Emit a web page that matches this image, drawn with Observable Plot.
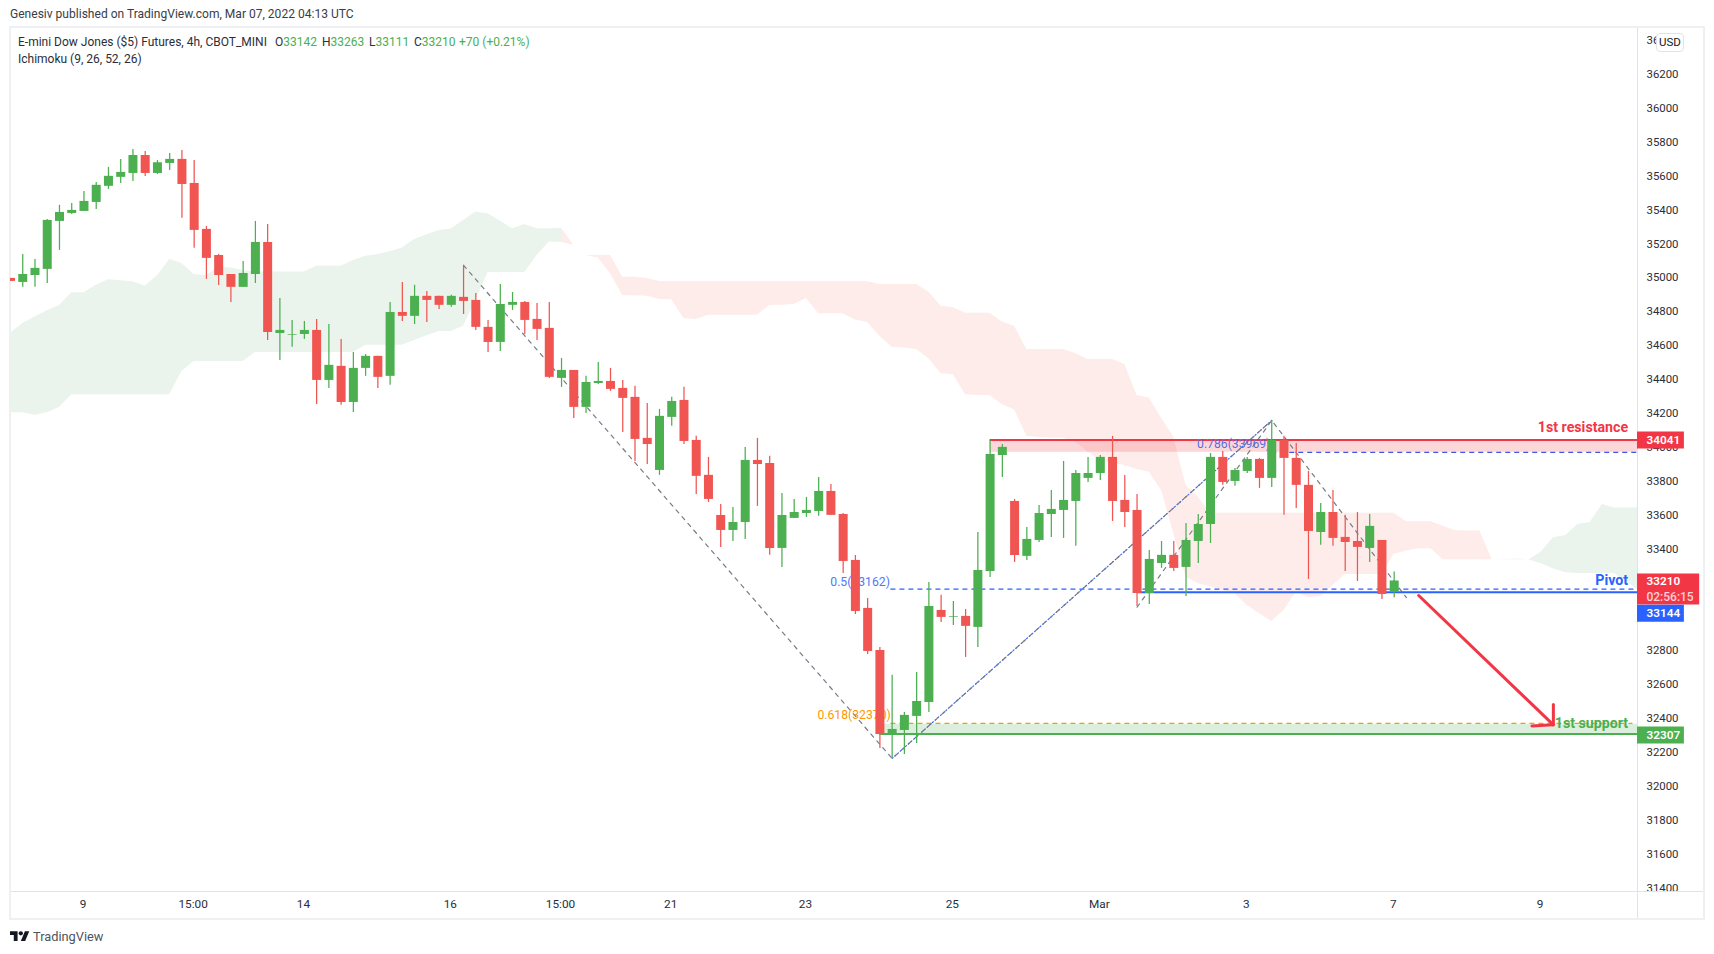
<!DOCTYPE html>
<html>
<head>
<meta charset="utf-8">
<script src="https://cdn.jsdelivr.net/npm/d3@7"></script>
<script src="https://cdn.jsdelivr.net/npm/@observablehq/plot@0.6"></script>
<style>
  html,body{margin:0;padding:0;background:#fff;width:1714px;height:954px;overflow:hidden;font-family:Roboto,sans-serif;color:#131722}
  #wrap{position:relative;width:1714px;height:954px}
  #pub{height:26px;line-height:29px;padding-left:10px;font-size:12.05px;color:#3a3d45;white-space:nowrap}
  #chart{height:894px}
  #chart svg{display:block}
  .leg{position:absolute;font-size:12px;white-space:nowrap;color:#2a2e39}
  .up{color:#4caf50}
  #usd{position:absolute;left:1656px;top:33px;width:26px;height:17px;line-height:17px;text-align:center;font-size:11.5px;background:#fff;border:1px solid #e0e3eb;border-radius:4px}
  #foot{position:absolute;left:33px;top:928px;font-size:12.8px;line-height:18px;color:#50535e}
  #logo{position:absolute;left:10px;top:928.5px;width:19.5px;height:15.2px}
</style>
</head>
<body>
<div id="wrap">
  <div id="pub">Genesiv published on TradingView.com, Mar 07, 2022 04:13 UTC</div>
  <div id="chart"></div>
  <span class="leg" style="left:18px;top:35px">E-mini Dow Jones ($5) Futures, 4h, CBOT_MINI</span>
  <span class="leg" style="left:275px;top:35px">O<span class="up">33142</span></span>
  <span class="leg" style="left:322px;top:35px">H<span class="up">33263</span></span>
  <span class="leg" style="left:369px;top:35px">L<span class="up">33111</span></span>
  <span class="leg" style="left:414px;top:35px">C<span class="up">33210</span></span>
  <span class="leg up" style="left:459px;top:35px">+70 (+0.21%)</span>
  <span class="leg" style="left:18px;top:52px">Ichimoku (9, 26, 52, 26)</span>
  <div id="usd">USD</div>
  <svg id="logo" viewBox="0 0 36 28"><path fill="#131722" d="M14 22H7V11H0V4h14v18zM28 22h-8l7.5-18h8L28 22z"/><circle fill="#131722" cx="20" cy="8" r="4"/></svg>
  <div id="foot">TradingView</div>
</div>
<script>
const opens = [34995,34971,35012,35048,35331,35378,35390,35443,35538,35591,35614,35720,35614,35673,35697,35555,35284,35130,35018,34942,35018,35207,34670,34660,34664,34688,34393,34476,34263,34464,34535,34417,34794,34771,34889,34889,34836,34883,34865,34706,34617,34836,34853,34753,34700,34405,34452,34234,34375,34387,34346,34293,34051,33862,34175,34275,34039,33833,33596,33508,33555,33921,33903,33402,33579,33608,33620,33738,33602,33331,33048,32800,32304,32328,32411,32493,33036,32995,33001,32936,33266,33950,33679,33355,33449,33602,33626,33679,33815,33844,33939,33685,33626,33136,33313,33361,33290,33443,33543,33939,33797,33856,33927,33815,34039,33933,33774,33496,33614,33467,33443,33402,33449,33142];
const highs = [34995,35136,35107,35343,35426,35437,35508,35561,35650,35697,35756,35744,35691,35732,35750,35691,35301,35136,35018,35095,35331,35313,34877,34747,34741,34753,34723,34635,34558,34546,34535,34853,34971,34954,34918,34889,34895,35072,34906,34747,34959,34912,34859,34847,34853,34523,34452,34417,34499,34464,34393,34358,34257,34222,34293,34352,34063,33939,33661,33644,33998,34051,33945,33726,33691,33703,33821,33779,33608,33360,33107,32818,32653,32434,32670,33201,33125,33089,33042,33496,34039,34015,33691,33526,33655,33744,33915,33862,33939,33950,34063,33832,33720,33390,33443,33443,33549,33602,33962,33974,33874,33939,33933,34157,34063,34021,33856,33667,33744,33597,33614,33602,33449,33263];
const lows = [34977,34942,34942,34965,35160,35372,35390,35402,35520,35555,35567,35596,35608,35632,35349,35172,34989,34953,34853,34942,34965,34629,34511,34588,34635,34251,34346,34246,34204,34417,34346,34364,34741,34723,34735,34812,34824,34782,34688,34558,34564,34806,34664,34629,34405,34352,34169,34198,34369,34328,34086,33915,33897,33833,34122,34015,33720,33673,33408,33443,33455,33650,33361,33290,33579,33585,33591,33597,33254,33012,32776,32222,32163,32186,32251,32434,32965,32947,32759,32818,33231,33821,33319,33331,33437,33467,33461,33414,33791,33803,33561,33526,33060,33071,33284,33266,33119,33313,33431,33774,33768,33844,33756,33762,33597,33638,33219,33420,33414,33266,33207,33319,33101,33111];
const closes = [34977,35018,35054,35337,35384,35396,35449,35544,35597,35620,35720,35614,35677,35697,35549,35278,35113,35012,34942,35024,35207,34676,34688,34664,34688,34393,34482,34263,34464,34535,34411,34794,34771,34889,34865,34836,34889,34859,34706,34617,34841,34853,34747,34694,34411,34452,34234,34381,34387,34340,34287,34045,34015,34181,34269,34033,33827,33691,33508,33555,33921,33897,33402,33596,33614,33626,33738,33597,33325,33030,32794,32304,32334,32417,32499,33060,32995,32999,32942,33272,33956,33998,33360,33455,33608,33632,33685,33844,33844,33939,33679,33614,33136,33337,33361,33284,33449,33543,33939,33791,33862,33927,33815,34039,33933,33774,33502,33614,33461,33437,33408,33532,33130,33210];

// Ichimoku cloud, first green stretch: bars 0..45
const greenATop = [34672,34729,34767,34804,34835,34910,34910,34954,34987,34981,34975,34948,35011,35107,35083,35018,35012,35060,35056,35042,35032,35032,35032,35032,35032,35066,35066,35066,35101,35126,35136,35152,35174,35225,35252,35278,35286,35337,35386,35376,35333,35288,35313,35288,35288,35290];
const greenABottom = [34202,34202,34187,34202,34234,34309,34309,34309,34309,34309,34309,34309,34309,34309,34446,34505,34505,34505,34505,34505,34558,34558,34558,34558,34558,34558,34558,34558,34558,34600,34600,34600,34600,34629,34657,34682,34682,34712,34865,35030,35030,35030,35030,35130,35209,35207];
// red stretch: bars 45..121
const redTop = [35290,35190,35130,35130,35130,
  35001,35001,34995,
  34977,34977,34977,34977,34977, 34977,34977,34977,34977,34977, 34977,34977,34977,34977,34977, 34977,34977,
  34975,34959,34959,34959,34959,34914,34831,34821,34790,34790,34790,34737,34711,34576,34576,34576,34576,34550,34517,34517,34517,34487,34304,34290,34170,34059,33773,33705,
  33610,33610,33610,33610, 33610,33610,33610,33610, 33610,33610,33610,33610, 33610,33610,33610,33610,
  33559,33559,33559,33533,33508,33504,33504,33335];
const redBottom = [35207,35190,35130,35115,35022,34894,34893,34889,34871,34869,34759,34753,34778,34778,34778,34778,34778,34835,34837,34841,34877,34786,34786,34786,34750,34735,34654,34589,34585,34576,34521,34432,34426,34308,34304,34304,34249,34220,34064,34056,34054,34052,34029,33970,33921,33905,33891,33868,33852,33744,33488,33233,33193,33174,33154,33134,33065,33016,32971,33036,33144,33111,33119,33183,33248,33248,33248,33248,33368,33386,33400,33400,33335,33335,33335,33335,33335];
// last green stretch: bars 121..133
const greenBTop = [33335,33337,33340,33335,33380,33465,33478,33543,33555,33661,33640,33640,33640];
const greenBBottom = [33335,33335,33335,33335,33311,33282,33258,33254,33254,33254,33254,33203,33154];

const yTicks = [31400,31600,31800,32000,32200,32400,32600,32800,33000,33200,33400,33600,33800,34000,34200,34400,34600,34800,35000,35200,35400,35600,35800,36000,36200,36400];
const xTickBars = [6,15,24,36,45,54,65,77,89,101,113,125];
const xTickLabels = ["9","15:00","14","16","15:00","21","23","25","Mar","3","7","9"];

const resistance = 34041, fib786 = 33969, pivot = 33144, fib05 = 33162, fib618 = 32370, support = 32307;
const lastBar = 132.87, tagEnd = 136.7, tagEndWide = 137.95, tagTextBar = 133.6, labelBar = 132.1;

const swingBars = [37,72,103];
const swingPrices = [35072,32163,34157];
const swing2Bars = [92,103,114];
const swing2Prices = [33055,34157,33112];
const fibBaseBars = [72,103];
const fibBasePrices = [32163,34157];

const arrowBars = [115,126,126,124.25];
const arrowPrices = [33124,32361,32481,32355];

const RED="#f05552", GREEN="#4caf50", TRED="#f23645", TBLUE="#2962ff", TGREEN="#4caf50", ORANGE="#ff9800", GREY="#787b86";
const FONT = "Roboto, sans-serif";

const candles = opens.map((o,i)=>({i,o,h:highs[i],l:lows[i],c:closes[i],col:closes[i]>=o?GREEN:RED}));
const cloudA = greenATop.map((t,k)=>({i:k,t,b:greenABottom[k]}));
const cloudR = redTop.map((t,k)=>({i:45+k,t,b:redBottom[k]}));
const cloudB = greenBTop.map((t,k)=>({i:121+k,t,b:greenBBottom[k]}));
const toPts = (xs,ys)=>xs.map((x,k)=>({x,y:ys[k]}));

function chrome(index, scales, values, dims){
  const {width,height,marginTop,marginRight,marginBottom,marginLeft}=dims;
  const g=d3.create("svg:g");
  const r=(x,y,w,h,f)=>g.append("rect").attr("x",x).attr("y",y).attr("width",w).attr("height",h).attr("fill",f);
  const right=width-marginRight, bottom=height-marginBottom;
  r(marginLeft-1,bottom,width-marginLeft,marginBottom,"#fff");
  r(right,marginTop,1,height-marginTop-1,"#e0e3eb");
  r(marginLeft,bottom,1704-marginLeft,1,"#e0e3eb");
  r(marginLeft-1,0,2,height,"#eff0f4");
  r(marginLeft-1,0,1696,2,"#eff0f4");
  r(1703,0,2,height,"#eff0f4");
  r(marginLeft-1,height-2,1696,2,"#eff0f4");
  return g.node();
}

const dash = {strokeWidth:1.2, strokeDasharray:"5 4"};
const greyDash = {stroke:GREY, strokeWidth:1.2, strokeDasharray:"4 5"};
const labelStyle = {fontSize:14.2, fontWeight:700, fontFamily:FONT};
const plot = Plot.plot({
  width:1714, height:894,
  marginTop:1, marginBottom:29, marginLeft:10, marginRight:77,
  style:{fontFamily:FONT, fontSize:"11.4px", color:"#131722", background:"transparent", overflow:"visible"},
  x:{type:"linear", domain:[0,lastBar], axis:null},
  y:{type:"linear", domain:[31378,36475], axis:null},
  marks:[
    Plot.axisY({anchor:"right", ticks:yTicks, tickSize:0, tickPadding:9, tickFormat:"d", label:null, fill:"#2a2e39", fontSize:11.4, dy:0.3}),
    chrome,
    Plot.axisX({anchor:"bottom", ticks:xTickBars, tickSize:0, tickPadding:8, label:null, fill:"#2a2e39", fontSize:11.8, dx:-1,
      tickFormat:d=>xTickLabels[xTickBars.indexOf(d)]}),
    Plot.areaY(cloudA,{x:"i",y1:"b",y2:"t",fill:"#ebf4ec",clip:true}),
    Plot.areaY(cloudR,{x:"i",y1:"b",y2:"t",fill:"#feecea",clip:true}),
    Plot.areaY(cloudB,{x:"i",y1:"b",y2:"t",fill:"#ebf4ec",clip:true}),
    // zones
    Plot.rect([0],{x1:80,x2:lastBar,y1:fib786,y2:resistance,fill:"rgba(242,54,69,0.2)"}),
    Plot.rect([0],{x1:71,x2:lastBar,y1:support,y2:fib618-6,fill:"rgba(76,175,80,0.2)"}),
    // fib dashes
    Plot.ruleY([fib05],{x1:71.9,x2:lastBar,stroke:TBLUE,...dash}),
    Plot.ruleY([fib618],{x1:71.9,x2:132.5,stroke:ORANGE,...dash}),
    Plot.ruleY([fib786],{x1:103,x2:lastBar,stroke:"#3f56e0",...dash}),
    // swing lines
    Plot.line(toPts(fibBaseBars,fibBasePrices),{x:"x",y:"y",stroke:TBLUE,strokeWidth:1.1,strokeDasharray:"1.2 2.4"}),
    Plot.line(toPts(swingBars,swingPrices),{x:"x",y:"y",...greyDash}),
    Plot.line(toPts(swing2Bars,swing2Prices),{x:"x",y:"y",...greyDash}),
    // level lines
    Plot.ruleY([resistance],{x1:80,x2:lastBar,stroke:TRED,strokeWidth:2}),
    Plot.ruleY([support],{x1:71,x2:lastBar,stroke:TGREEN,strokeWidth:2}),
    Plot.ruleY([pivot],{x1:92,x2:lastBar,stroke:TBLUE,strokeWidth:2}),
    // fib labels (sit under the candles)
    Plot.text(["0.5(33162)"],{x:66.95,y:33203,text:d=>d,textAnchor:"start",fill:"#4f79f5",fontSize:12.2}),
    Plot.text(["0.618(32370)"],{x:65.9,y:32416,text:d=>d,textAnchor:"start",fill:ORANGE,fontSize:12.2}),
    Plot.text(["0.786(33969)"],{x:96.9,y:34015,text:d=>d,textAnchor:"start",fill:"#5a6ce4",fontSize:12.2}),
    // candles
    Plot.ruleX(candles,{x:"i",y1:"l",y2:"h",stroke:d=>d.col,strokeWidth:1.25,clip:true}),
    Plot.ruleX(candles,{x:"i",y1:"o",y2:"c",stroke:d=>d.col,strokeWidth:9,clip:true}),
    // target arrow
    Plot.line(toPts(arrowBars.slice(0,2),arrowPrices.slice(0,2)),{x:"x",y:"y",stroke:TRED,strokeWidth:3}),
    Plot.line(toPts(arrowBars.slice(2),arrowPrices.slice(2)).flatMap((p,k)=>k==0?[p,{x:arrowBars[1],y:arrowPrices[1]}]:[p]),{x:"x",y:"y",stroke:TRED,strokeWidth:3,strokeLinejoin:"miter"}),
    // level names
    Plot.text(["1st resistance"],{x:labelBar,y:34114,text:d=>d,textAnchor:"end",fill:TRED,...labelStyle}),
    Plot.text(["Pivot"],{x:labelBar,y:33213,text:d=>d,textAnchor:"end",fill:TBLUE,...labelStyle}),
    Plot.text(["1st support"],{x:labelBar,y:32371,text:d=>d,textAnchor:"end",fill:TGREEN,...labelStyle}),
    // price tags
    Plot.ruleY([resistance],{x1:lastBar,x2:tagEnd,stroke:TRED,strokeWidth:17}),
    Plot.ruleY([closes[113]],{x1:lastBar,x2:tagEndWide,stroke:TRED,strokeWidth:31,dy:8}),
    Plot.ruleY([pivot],{x1:lastBar,x2:tagEnd,stroke:TBLUE,strokeWidth:17,dy:21}),
    Plot.ruleY([support],{x1:lastBar,x2:tagEnd,stroke:TGREEN,strokeWidth:17,dy:1}),
    Plot.text([resistance],{x:tagTextBar,y:d=>d,text:d=>String(d),textAnchor:"start",fill:"#fff",fontSize:11.8,fontWeight:600}),
    Plot.text([closes[113]],{x:tagTextBar,y:d=>d,text:d=>String(d),textAnchor:"start",fill:"#fff",fontSize:11.8,fontWeight:600}),
    Plot.text(["02:56:15"],{x:tagTextBar,y:closes[113],text:d=>d,textAnchor:"start",fill:"rgba(255,255,255,0.78)",fontSize:12,fontWeight:500,dy:16}),
    Plot.text([pivot],{x:tagTextBar,y:d=>d,text:d=>String(d),textAnchor:"start",fill:"#fff",fontSize:11.8,fontWeight:600,dy:21}),
    Plot.text([support],{x:tagTextBar,y:d=>d,text:d=>String(d),textAnchor:"start",fill:"#fff",fontSize:11.8,fontWeight:600,dy:1})
  ]
});
document.getElementById("chart").appendChild(plot);
</script>
</body>
</html>
